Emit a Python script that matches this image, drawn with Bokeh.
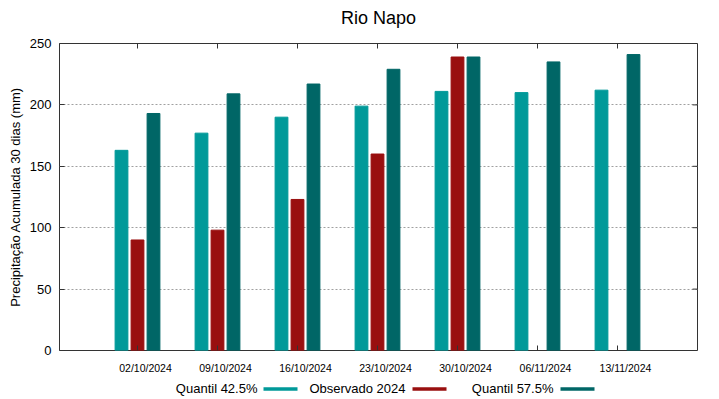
from bokeh.plotting import figure
from bokeh.models import (ColumnDataSource, Range1d, FixedTicker, LinearAxis,
                          CustomJSTickFormatter)
from bokeh.layouts import column
from bokeh.core.properties import value
from bokeh.transform import dodge
from bokeh.embed import file_html
from bokeh.resources import INLINE

# ---- data ----
title_text = "Rio Napo"
dates = ["02/10/2024", "09/10/2024", "16/10/2024", "23/10/2024",
         "30/10/2024", "06/11/2024", "13/11/2024"]
quantil_425 = [163, 177, 190, 199, 211, 210, 212]
observado_2024 = [90, 98, 123, 160, 239]
quantil_575 = [193, 209, 217, 229, 239, 235, 241]
series_names = ["Quantil 42.5%", "Observado 2024", "Quantil 57.5%"]
colors = ["#009999", "#990f0f", "#006666"]
yticks = [0, 50, 100, 150, 200, 250]

FONT = "Liberation Sans"
xpos = list(range(len(dates)))
X0, X1, Y0, Y1 = -0.975, 7.0, 0, 250
FL, FR = 59, 697          # frame left / right edge (px)
FW, FH = FR - FL, 307     # frame size in px
px_x = (X1 - X0) / FW
px_y = (Y1 - Y0) / FH
TICK = 5


def strip(fig):
    fig.outline_line_color = None
    fig.xgrid.grid_line_color = None
    fig.ygrid.grid_line_color = None


# ---- title row ----
TH = 33
tfig = figure(frame_width=FW, frame_height=TH, output_backend="svg", toolbar_location=None,
              x_range=Range1d(FL, FR), y_range=Range1d(0, TH),
              x_axis_location=None, y_axis_location=None,
              min_border_left=FL, min_border_right=719 - FR, min_border_top=0,
              min_border_bottom=0)
strip(tfig)
tfig.text(x=[(FL + FR) / 2], y=[TH - 17], text=[title_text], text_align="center",
          text_baseline="alphabetic", text_font=value(FONT), text_font_size="18px",
          text_color="#000000")

# ---- main chart ----
src_all = ColumnDataSource(dict(x=xpos, q1=quantil_425, q2=quantil_575))
src_obs = ColumnDataSource(dict(x=xpos[:len(observado_2024)], obs=observado_2024))

p = figure(frame_width=FW, frame_height=FH, output_backend="svg", toolbar_location=None,
           x_range=Range1d(X0, X1), y_range=Range1d(Y0, Y1), x_axis_location=None,
           min_border_left=FL, min_border_right=719 - FR, min_border_top=10,
           min_border_bottom=27)

bw = 0.16
p.vbar(x=dodge("x", -0.2, range=p.x_range), top="q1", width=bw, source=src_all,
       fill_color=colors[0], line_color=colors[0])
p.vbar(x=dodge("x", 0.0, range=p.x_range), top="obs", width=bw, source=src_obs,
       fill_color=colors[1], line_color=colors[1])
p.vbar(x=dodge("x", 0.2, range=p.x_range), top="q2", width=bw, source=src_all,
       fill_color=colors[2], line_color=colors[2])

p.outline_line_color = "#333333"
p.outline_line_width = 1

ya = p.yaxis[0]
ya.ticker = FixedTicker(ticks=yticks)
ya.major_tick_in = TICK
ya.major_tick_out = 0
ya.minor_tick_line_color = None
ya.axis_line_color = None
ya.major_tick_line_color = "#333333"
ya.major_label_standoff = 8
ya.major_label_text_font = FONT
ya.major_label_text_font_size = "13px"
ya.major_label_text_color = "#000000"
ya.axis_label = "Precipitação Acumulada 30 dias (mm)"
ya.axis_label_text_font = FONT
ya.axis_label_text_font_size = "13px"
ya.axis_label_text_font_style = "normal"
ya.axis_label_text_color = "#000000"
ya.axis_label_standoff = 4

# bottom date labels (slightly right of the tick, as in the original)
p.extra_x_ranges = {"lab": Range1d(X0 - 8 * px_x, X1 - 8 * px_x)}
xa = LinearAxis(x_range_name="lab", ticker=FixedTicker(ticks=xpos),
                formatter=CustomJSTickFormatter(args=dict(labels=dates),
                                                code="return labels[Math.round(tick)];"),
                major_tick_line_color=None, minor_tick_line_color=None,
                axis_line_color=None, major_label_standoff=5,
                major_label_text_font=FONT, major_label_text_font_size="10.5px",
                major_label_text_color="#000000")
p.add_layout(xa, "below")

# inward tick marks on top, bottom and right edges
n = len(xpos)
p.segment(x0=xpos, x1=xpos, y0=[Y1] * n, y1=[Y1 - TICK * px_y] * n,
          line_color="#333333", line_width=1)
p.segment(x0=xpos, x1=xpos, y0=[Y0] * n, y1=[Y0 + TICK * px_y] * n,
          line_color="#333333", line_width=1)
m = len(yticks)
p.segment(x0=[X1] * m, x1=[X1 - TICK * px_x] * m, y0=yticks, y1=yticks,
          line_color="#333333", line_width=1)

p.xgrid.grid_line_color = None
p.ygrid.ticker = FixedTicker(ticks=yticks[1:-1])
p.ygrid.grid_line_color = "#a0a0a0"
p.ygrid.grid_line_dash = "2 2"
p.ygrid.grid_line_width = 1

# ---- legend row (gnuplot style: text, then sample) ----
LH = 22
leg = figure(frame_width=FW, frame_height=LH, output_backend="svg", toolbar_location=None,
             x_range=Range1d(FL, FR), y_range=Range1d(0, LH),
             x_axis_location=None, y_axis_location=None,
             min_border_left=FL, min_border_right=719 - FR, min_border_top=0,
             min_border_bottom=0)
strip(leg)
text_right = [257, 405, 553]
sample_left = [263, 412, 560]
sample_len = 34
leg.text(x=text_right, y=[11.5] * 3, text=series_names, text_align="right",
         text_baseline="middle", text_font=value(FONT), text_font_size="13px",
         text_color="#000000")
leg.rect(x=[s + sample_len / 2 for s in sample_left], y=[10.5] * 3, width=sample_len,
         height=3.5, fill_color=colors, line_color=None)

layout = column(tfig, p, leg, spacing=0)
open("out.html", "w").write(file_html(layout, INLINE))
